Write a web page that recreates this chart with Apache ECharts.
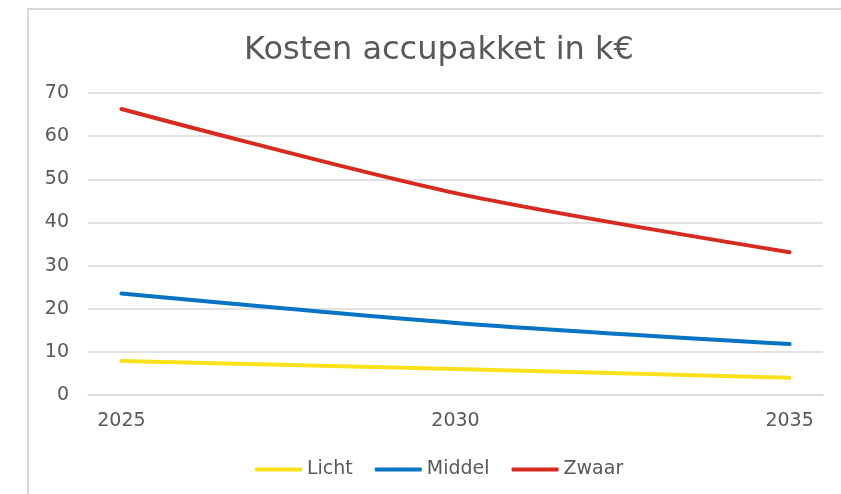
<!DOCTYPE html>
<html>
<head>
<meta charset="utf-8">
<script src="https://cdn.jsdelivr.net/npm/echarts@6/dist/echarts.min.js"></script>
<style>
html,body{margin:0;padding:0;background:#fff;}
#chart{width:841px;height:494px;}
</style>
</head>
<body>
<div id="chart"></div>
<script>
// Data (k€)
const years = ['2025','2026','2027','2028','2029','2030','2031','2032','2033','2034','2035'];
const licht  = [7.9, null, null, null, null, 6.0, null, null, null, null, 4.0];
const middel = [23.5, null, null, null, null, 16.7, null, null, null, null, 11.8];
const zwaar  = [66.3, null, null, null, null, 46.8, null, null, null, null, 33.1];
const yTicks = [0, 10, 20, 30, 40, 50, 60, 70];
const titleText = 'Kosten accupakket in k€';

const FONT = 'DejaVu Sans';
const TXT = '#595959';
const GRID = '#d9d9d9';

const chart = echarts.init(document.getElementById('chart'), null, {renderer: 'canvas'});

function mkSeries(name, data, color) {
  return {
    name: name,
    type: 'line',
    data: data,
    connectNulls: true,
    smooth: 0.3,
    symbol: 'none',
    lineStyle: {color: color, width: 4, cap: 'round'},
    itemStyle: {color: color}
  };
}

chart.setOption({
  animation: false,
  backgroundColor: '#fff',
  graphic: [{
    type: 'rect',
    shape: {x: 28, y: 9, width: 900, height: 600},
    style: {fill: 'none', stroke: GRID, lineWidth: 2},
    silent: true,
    z: -1
  }],
  title: {
    text: titleText,
    left: 434,
    top: 30,
    textAlign: 'center',
    textStyle: {fontFamily: FONT, fontSize: 32, fontWeight: 'normal', color: TXT}
  },
  grid: {left: 88, right: 18, top: 93, bottom: 99, containLabel: false},
  xAxis: {
    type: 'category',
    data: years,
    boundaryGap: true,
    axisLine: {show: true, lineStyle: {color: GRID, width: 1.5}},
    axisTick: {show: false},
    splitLine: {show: false},
    axisLabel: {
      interval: function (i) { return i % 5 === 0; },
      margin: 17,
      fontFamily: FONT, fontSize: 19, color: TXT
    }
  },
  yAxis: {
    type: 'value',
    min: yTicks[0],
    max: yTicks[yTicks.length - 1],
    interval: 10,
    axisLine: {show: false},
    axisTick: {show: false},
    splitLine: {lineStyle: {color: GRID, width: 1.5}},
    axisLabel: {margin: 19, fontFamily: FONT, fontSize: 19, color: TXT}
  },
  legend: {
    left: 250,
    top: 455,
    icon: 'roundRect',
    itemWidth: 47,
    itemHeight: 4,
    itemGap: 22,
    textStyle: {fontFamily: FONT, fontSize: 19, color: TXT, padding: [0,0,0,0]},
    data: ['Licht', 'Middel', 'Zwaar']
  },
  series: [
    mkSeries('Licht', licht, '#FAE11C'),
    mkSeries('Middel', middel, '#0673C4'),
    mkSeries('Zwaar', zwaar, '#D72B1F')
  ]
});
</script>
</body>
</html>
